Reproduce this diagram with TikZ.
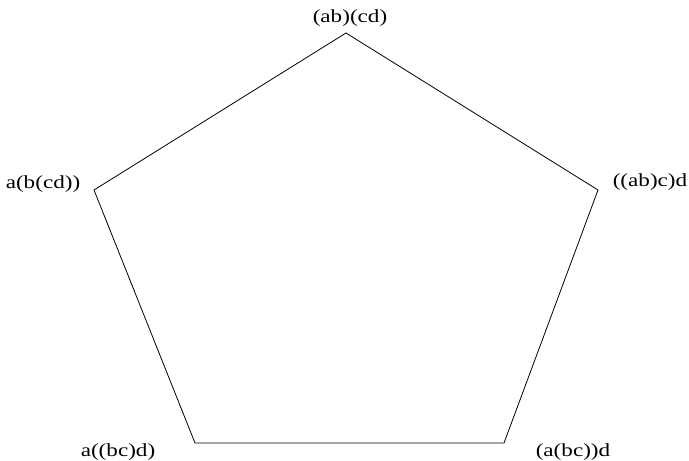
\documentclass[tikz,border=0pt]{standalone}
\usepackage{fontspec}
\setmainfont[FakeStretch=1.25]{Liberation Serif}
\begin{document}
\begin{tikzpicture}[x=1pt,y=-1pt,
  lbl/.style={font=\fontsize{18.5}{20}\selectfont, inner sep=0pt},
  edge/.style={line width=0.8pt, black}]
\useasboundingbox (0,0) rectangle (689,461);
\coordinate (T) at (346,33);
\coordinate (R) at (598,190);
\coordinate (BR) at (504,443);
\coordinate (BL) at (195,443);
\coordinate (L) at (94,190);
\draw[edge] (T) -- (R) -- (BR) -- (BL) -- (L) -- cycle;
\node[lbl] (tl) at (350,18) {(ab)(cd)};
\node[lbl] (rl) at (650,182) {((ab)c)d};
\node[lbl] (ll) at (43,184) {a(b(cd))};
\node[lbl] (bll) at (118,452) {a((bc)d)};
\node[lbl] (brl) at (573,452) {(a(bc))d};
\end{tikzpicture}
\end{document}
